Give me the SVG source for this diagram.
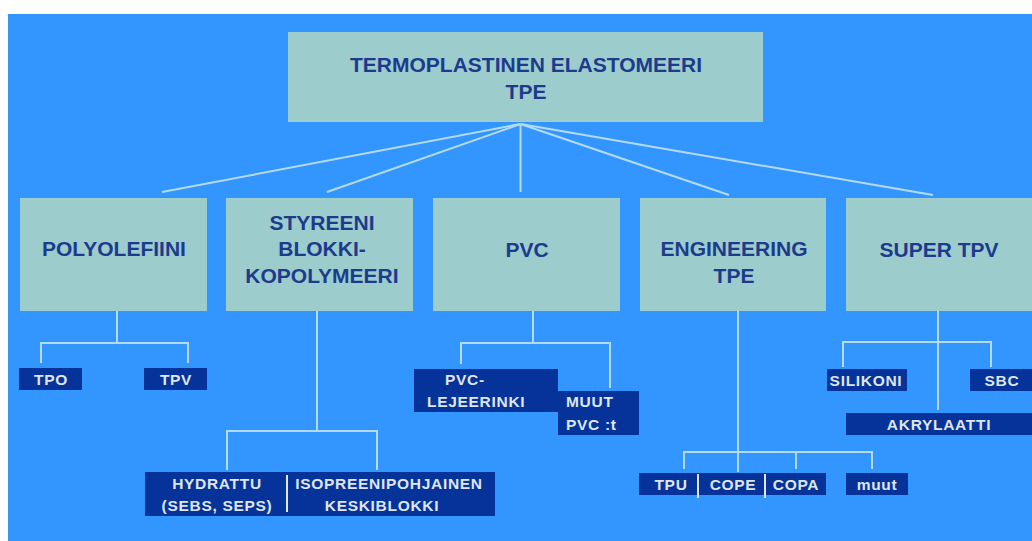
<svg xmlns="http://www.w3.org/2000/svg" width="1032" height="541" viewBox="0 0 1032 541">
<style>
.bg{fill:#3396ff}
.main{fill:#9ccccc}
.sub{fill:#06339a}
.t1{font-family:"Liberation Sans",Arial,sans-serif;font-weight:bold;font-size:21px;fill:#1c3b8c;text-anchor:middle}
.t2{font-family:"Liberation Sans",Arial,sans-serif;font-weight:bold;font-size:15.5px;letter-spacing:0.7px;fill:#dfe6f0;text-anchor:middle}
.t2s{font-family:"Liberation Sans",Arial,sans-serif;font-weight:bold;font-size:15.5px;letter-spacing:0.7px;fill:#dfe6f0}
.ln{stroke:#b4daf0;stroke-width:2;fill:none}
.dv{stroke:#dfe6f0;stroke-width:2}
</style>
<rect x="0" y="0" width="1032" height="541" fill="#ffffff"/>
<rect class="bg" x="8" y="14" width="1024" height="527"/>

<g id="connectors">
  <line class="ln" x1="520.5" y1="124" x2="162" y2="192"/>
  <line class="ln" x1="520.5" y1="124" x2="327" y2="192"/>
  <line class="ln" x1="520.5" y1="124" x2="520.5" y2="192"/>
  <line class="ln" x1="520.5" y1="124" x2="729" y2="195"/>
  <line class="ln" x1="520.5" y1="124" x2="933" y2="195"/>
  <polyline class="ln" points="117,311 117,343"/>
  <polyline class="ln" points="41,363 41,343 188,343 188,363"/>
  <polyline class="ln" points="317,311 317,431"/>
  <polyline class="ln" points="227,470 227,431 377,431 377,470"/>
  <polyline class="ln" points="533,311 533,343"/>
  <polyline class="ln" points="461,364 461,343 610,343 610,388"/>
  <polyline class="ln" points="738,311 738,472"/>
  <polyline class="ln" points="684,469 684,452 872,452 872,469"/>
  <polyline class="ln" points="796,452 796,469"/>
  <polyline class="ln" points="938,311 938,410"/>
  <polyline class="ln" points="843,367 843,342 991,342 991,367"/>
</g>

<g id="root">
  <rect class="main" x="288" y="32" width="475" height="90"/>
  <text class="t1" x="526" y="72">TERMOPLASTINEN ELASTOMEERI</text>
  <text class="t1" x="526" y="99">TPE</text>
</g>

<g id="polyolefiini">
  <rect class="main" x="20" y="198" width="187" height="113"/>
  <text class="t1" x="114" y="256">POLYOLEFIINI</text>
</g>
<g id="styreeni">
  <rect class="main" x="226" y="198" width="187" height="113"/>
  <text class="t1" x="322" y="230">STYREENI</text>
  <text class="t1" x="322" y="256">BLOKKI-</text>
  <text class="t1" x="322" y="283">KOPOLYMEERI</text>
</g>
<g id="pvc">
  <rect class="main" x="433" y="198" width="187" height="113"/>
  <text class="t1" x="527" y="257">PVC</text>
</g>
<g id="engineering">
  <rect class="main" x="640" y="198" width="186" height="113"/>
  <text class="t1" x="734" y="256">ENGINEERING</text>
  <text class="t1" x="734" y="283">TPE</text>
</g>
<g id="supertpv">
  <rect class="main" x="846" y="198" width="186" height="113"/>
  <text class="t1" x="939" y="257">SUPER TPV</text>
</g>

<g id="tpo">
  <rect class="sub" x="19" y="368" width="63" height="22"/>
  <text class="t2" x="51" y="384.5">TPO</text>
</g>
<g id="tpv">
  <rect class="sub" x="144" y="368" width="63" height="22"/>
  <text class="t2" x="176" y="384.5">TPV</text>
</g>

<g id="styreeni-sub">
  <rect class="sub" x="145" y="472" width="350" height="44"/>
  <line class="dv" x1="287" y1="475" x2="287" y2="512"/>
  <text class="t2" x="217" y="489">HYDRATTU</text>
  <text class="t2" x="217" y="511">(SEBS, SEPS)</text>
  <text class="t2" x="389" y="489">ISOPREENIPOHJAINEN</text>
  <text class="t2" x="382" y="511">KESKIBLOKKI</text>
</g>

<g id="pvc-lejeerinki">
  <rect class="sub" x="414" y="369" width="144" height="43"/>
  <text class="t2s" x="445" y="385">PVC-</text>
  <text class="t2s" x="427" y="407">LEJEERINKI</text>
</g>
<g id="muut-pvc">
  <rect class="sub" x="558" y="391" width="81" height="44"/>
  <text class="t2s" x="566" y="407">MUUT</text>
  <text class="t2s" x="566" y="430">PVC :t</text>
</g>

<g id="engineering-sub">
  <rect class="sub" x="639" y="473" width="187" height="22"/>
  <line class="dv" x1="698" y1="474" x2="698" y2="498"/>
  <line class="dv" x1="765" y1="474" x2="765" y2="498"/>
  <text class="t2" x="671" y="490">TPU</text>
  <text class="t2" x="733" y="490">COPE</text>
  <text class="t2" x="796" y="490">COPA</text>
</g>
<g id="muut">
  <rect class="sub" x="846" y="473" width="62" height="22"/>
  <text class="t2" x="877" y="490">muut</text>
</g>

<g id="silikoni">
  <rect class="sub" x="827" y="369" width="80" height="22"/>
  <text class="t2" x="866" y="386">SILIKONI</text>
</g>
<g id="sbc">
  <rect class="sub" x="970" y="369" width="62" height="22"/>
  <text class="t2" x="1002" y="386">SBC</text>
</g>
<g id="akrylaatti">
  <rect class="sub" x="846" y="413" width="186" height="22"/>
  <text class="t2" x="939" y="430">AKRYLAATTI</text>
</g>
</svg>
